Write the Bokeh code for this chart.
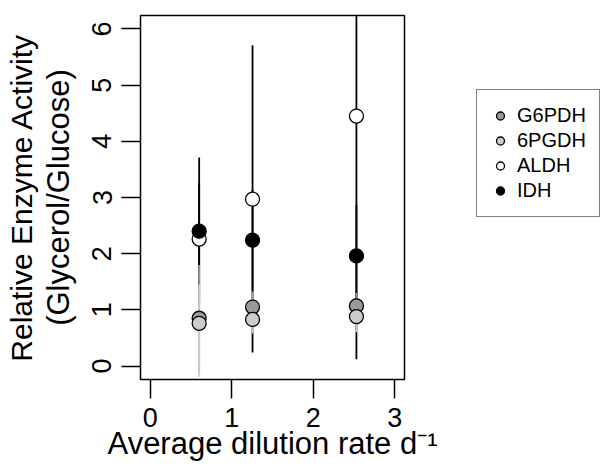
from bokeh.plotting import figure
from bokeh.layouts import row
from bokeh.models import Legend, LegendItem, Title, FixedTicker, Range1d
from bokeh.embed import file_html
from bokeh.resources import INLINE

# Average dilution rate (d^-1) for the three chemostat conditions
dilution = [0.60, 1.255, 2.53]

# Relative enzyme activity (glycerol / glucose) and error-bar limits
g6pdh = [0.85, 1.05, 1.07]
g6pdh_lo = [-0.10, 0.75, 0.85]
g6pdh_hi = [1.80, 1.32, 1.30]

pgdh6 = [0.76, 0.83, 0.88]
pgdh6_lo = [-0.19, 0.58, 0.60]
pgdh6_hi = [1.45, 1.08, 1.14]

aldh = [2.26, 2.97, 4.45]
aldh_lo = [1.26, 0.24, 0.12]
aldh_hi = [3.26, 5.71, 8.78]

idh = [2.40, 2.24, 1.96]
idh_lo = [1.09, 1.34, 1.06]
idh_hi = [3.71, 3.14, 2.86]

enzymes = ["G6PDH", "6PGDH", "ALDH", "IDH"]
fills = ["#999999", "#cccccc", "white", "black"]

x_ticks = [0, 1, 2, 3]
y_ticks = [0, 1, 2, 3, 4, 5, 6]

FONT = "Liberation Sans"

p = figure(
    width=450, height=466,
    output_backend="svg", toolbar_location=None,
    x_range=Range1d(-0.12, 3.12), y_range=Range1d(-0.24, 6.24),
    min_border_left=140, min_border_right=46,
    min_border_top=15, min_border_bottom=87,
)
p.background_fill_color = "white"
p.border_fill_color = "white"
p.outline_line_color = "black"
p.outline_line_width = 1.5
p.grid.visible = False

for ax in (p.xaxis, p.yaxis):
    ax.axis_line_color = None
    ax.major_tick_in = 0
    ax.major_tick_out = 19
    ax.major_tick_line_width = 1.5
    ax.major_tick_line_color = "black"
    ax.minor_tick_line_color = None
    ax.major_label_text_font = FONT
    ax.major_label_text_font_size = "27px"
    ax.major_label_text_color = "black"
    ax.axis_label_text_font = FONT
    ax.axis_label_text_font_size = "31px"
    ax.axis_label_text_font_style = "normal"
    ax.axis_label_text_color = "black"

p.xaxis.ticker = FixedTicker(ticks=x_ticks)
p.yaxis.ticker = FixedTicker(ticks=y_ticks)
p.xaxis.major_label_standoff = 9
p.yaxis.major_label_standoff = 10
p.yaxis.major_label_orientation = "vertical"
p.xaxis.axis_label = "Average dilution rate d\u207b\u00b9"
p.xaxis.axis_label_standoff = -4
p.yaxis.axis_label = "(Glycerol/Glucose)"
p.yaxis.axis_label_standoff = 14

outer = Title(text="Relative Enzyme Activity", align="center",
              text_font=FONT, text_font_size="30px",
              text_font_style="normal", text_color="black", standoff=0)
p.add_layout(outer, "left")

# error bars: black series first, the grey ones drawn over them
p.segment(x0=dilution, y0=aldh_lo, x1=dilution, y1=aldh_hi, line_color="black", line_width=1.8)
p.segment(x0=dilution, y0=idh_lo, x1=dilution, y1=idh_hi, line_color="black", line_width=1.8)
p.segment(x0=dilution, y0=g6pdh_lo, x1=dilution, y1=g6pdh_hi, line_color=fills[0], line_width=1.8)
p.segment(x0=dilution, y0=pgdh6_lo, x1=dilution, y1=pgdh6_hi, line_color=fills[1], line_width=1.8)

kw = dict(size=14, line_color="black", line_width=1.3)
for vals, fc in zip([g6pdh, pgdh6, aldh, idh], fills):
    p.scatter(dilution, vals, fill_color=fc, **kw)

# legend panel to the right of the plot; its key markers sit outside the visible range
lg = figure(
    width=152, height=466,
    output_backend="svg", toolbar_location=None,
    x_range=Range1d(0, 1), y_range=Range1d(0, 1),
    x_axis_type=None, y_axis_type=None,
    min_border_left=0, min_border_top=15, min_border_right=0, min_border_bottom=87,
)
lg.outline_line_color = None
lg.grid.visible = False

items = []
for name, fc in zip(enzymes, fills):
    r = lg.scatter(x=[-5], y=[-5], size=14, fill_color=fc, line_color="black", line_width=1.3)
    items.append(LegendItem(label=name, renderers=[r]))

legend = Legend(
    items=items,
    location=(26, 162),
    glyph_width=20, glyph_height=25,
    label_standoff=7, spacing=0, padding=13, margin=0,
    label_text_font=FONT, label_text_font_size="20px",
    label_text_color="black",
    label_height=25,
    border_line_color="black", border_line_width=1.5,
    background_fill_alpha=1.0,
)
lg.add_layout(legend, "center")

open("out.html", "w").write(file_html(row(p, lg), INLINE))
